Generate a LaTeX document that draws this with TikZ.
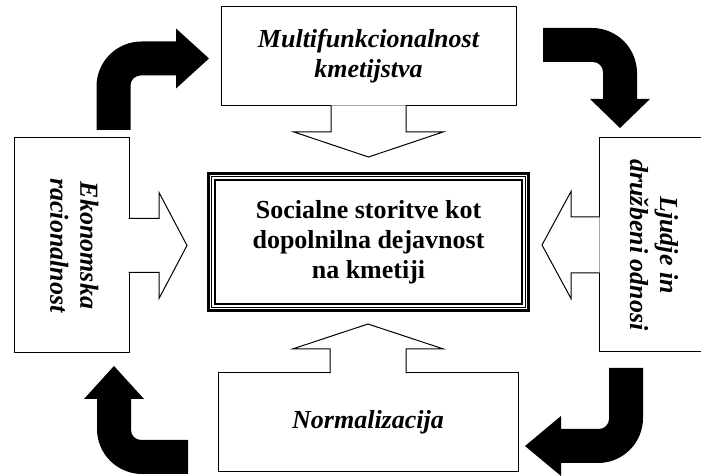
\documentclass[tikz,border=0pt]{standalone}
\usepackage{fontspec}
\usepackage{graphicx}
\setmainfont{Liberation Serif}
\usetikzlibrary{calc}
\tikzset{
    base/.style={font=\fontsize{26}{30}\selectfont\bfseries, align=center, inner sep=0pt, outer sep=0pt},
    panel/.style={base, rectangle, draw=black, line width=1pt, fill=white,
                  font=\fontsize{26}{30}\selectfont\bfseries\itshape},
    core/.style={base, rectangle, draw=black, line width=3pt, fill=white,
                 minimum width=320pt, minimum height=137pt},
    hollow/.style={draw=black, line width=1pt, fill=white, line join=miter},
    bent/.style={fill=black}
}
% black bent arrow: corner, rotation, tail length, shaft length, head length
\newcommand{\bentarrow}[5]{%
  \fill[bent, shift={(#1)}, rotate=#2]
    (-17,-#3) -- (-17,-28) arc[start angle=180, end angle=90, radius=45]
    -- (#4,17) -- (#4,30) -- ({#4+#5},0) -- (#4,-30) -- (#4,-17)
    -- (27,-17) arc[start angle=90, end angle=180, radius=10] -- (17,-#3) -- cycle;}
% open block arrow leaving a box: anchor, rotation, stem half, stem length, head half, tip
\newcommand{\callout}[6]{%
  \filldraw[hollow, shift={(#1)}, rotate=#2]
    (-#3,0.5) -- (-#3,-#4) -- (-#5,-#4) -- (0,-#6) -- (#5,-#4) -- (#3,-#4) -- (#3,0.5);}

\begin{document}
\begin{tikzpicture}[x=1pt, y=1pt]
  \useasboundingbox (0,0) rectangle (701,476);
  \clip (0,0) rectangle (701,476);

  % centre
  \node[core] (core) at (368.5,234)
    {Socialne storitve kot\\dopolnilna dejavnost\\na kmetiji};
  \draw[line width=1.2pt] ($(core.south west)+(3.3,3.3)$) rectangle ($(core.north east)+(-3.3,-3.3)$);
  \draw[line width=2pt] ($(core.south west)+(6.6,6.6)$) rectangle ($(core.north east)+(-6.6,-6.6)$);

  % four factors
  \node[panel, minimum width=295pt, minimum height=99pt] (multi) at (368.5,419.5)
    {Multifunkcionalnost\\kmetijstva};
  \node[panel, minimum width=300pt, minimum height=99pt] (norm) at (368,53.5)
    {Normalizacija};
  \node[panel, minimum width=115pt, minimum height=215pt] (eko) at (71.5,230.5)
    {\rotatebox[origin=c]{-90}{\begin{tabular}{@{}c@{}}Ekonomska\\racionalnost\end{tabular}}};
  \node[panel, minimum width=104pt, minimum height=214pt] (ljudje) at (651,231)
    {\rotatebox[origin=c]{-90}{\begin{tabular}{@{}c@{}}Ljudje in\\družbeni odnosi\end{tabular}}};

  % open arrows into the centre
  \callout{multi.south}{0}{37.5}{26}{74.5}{51}
  \callout{norm.north}{180}{38}{24}{75.5}{49}
  \callout{eko.east}{90}{27}{30}{53}{58}
  \callout{ljudje.west}{-90}{28}{28}{53.5}{57}

  % cycle of black arrows
  \bentarrow{113.5,417.5}{0}{71.5}{62.5}{33}
  \bentarrow{620,431}{-90}{77}{54}{29}
  \bentarrow{626,30}{180}{78}{65}{36}
  \bentarrow{114,19}{90}{74}{58}{33}
\end{tikzpicture}
\end{document}
